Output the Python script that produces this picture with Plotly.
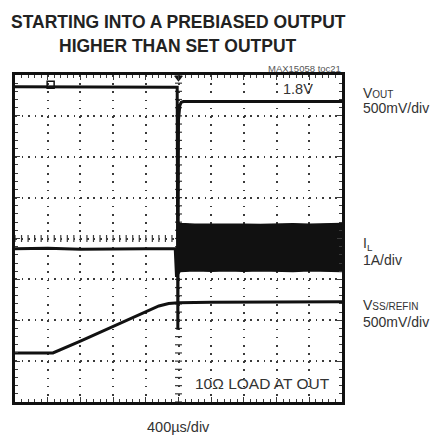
import plotly.graph_objects as go

# ---- data (x in time divisions 0..10, y in vertical divisions 0..8) ----
vout_x = [0.0, 1.0, 2.0, 3.0, 4.0, 4.96, 4.98, 5.00, 5.04, 5.08, 5.15, 6.0, 7.0, 8.0, 9.0, 10.0]
vout_y = [7.71, 7.71, 7.70, 7.71, 7.71, 7.70, 1.77, 6.90, 7.25, 7.33, 7.35, 7.35, 7.36, 7.35, 7.36, 7.35]

il_x = [0.0, 1.0, 2.0, 3.0, 4.0, 4.90, 4.94, 4.94]
il_y = [3.75, 3.76, 3.74, 3.75, 3.75, 3.75, 3.06, 3.75]

il_env_x = [4.94, 5.05, 5.5, 6.0, 6.5, 7.0, 7.5, 8.0, 8.5, 9.0, 9.5, 10.0]
il_env_hi = [4.40, 4.37, 4.35, 4.35, 4.36, 4.35, 4.34, 4.35, 4.36, 4.35, 4.36, 4.37]
il_env_lo = [3.06, 3.19, 3.21, 3.20, 3.21, 3.20, 3.21, 3.20, 3.19, 3.21, 3.20, 3.19]

vss_x = [0.0, 1.16, 2.0, 3.0, 4.0, 4.4, 4.7, 5.0, 6.0, 7.0, 8.0, 9.0, 10.0]
vss_y = [1.20, 1.20, 1.49, 1.85, 2.21, 2.35, 2.41, 2.43, 2.44, 2.44, 2.45, 2.44, 2.45]

minor_steps = [i / 5 for i in range(0, 51)]
minor_steps_y = [i / 5 for i in range(0, 41)]

title_lines = ["STARTING INTO A PREBIASED OUTPUT", "HIGHER THAN SET OUTPUT"]
fig_id = "MAX15058 toc21"
vout_label = ["V<span style='font-size:10px'>OUT</span>", "500mV/div"]
il_label = ["I<sub>L</sub>", "1A/div"]
vss_label = ["V<span style='font-size:10px'>SS/REFIN</span>", "500mV/div"]
time_label = "400µs/div"
level_label = "1.8V"
load_label = "10Ω LOAD AT OUT"

# ---- layout geometry ----
W, H = 438, 436
L, R, T, B = 15, 96, 75, 34
PW, PH = W - L - R, H - T - B


def px(xp):
    return (xp - L) / PW


def py(yp):
    return (H - B - yp) / PH


INK = "#111111"
GRID = "#3a3a3a"
SANS = "Liberation Sans, Arial, Helvetica, sans-serif"

fig = go.Figure()

# center-line tick crosses
fig.add_trace(go.Scatter(x=minor_steps, y=[4] * len(minor_steps), mode="markers",
                         marker=dict(symbol="line-ns", size=5, color=GRID, line=dict(width=1.2, color=GRID)),
                         hoverinfo="skip", showlegend=False))
fig.add_trace(go.Scatter(x=[5] * len(minor_steps_y), y=minor_steps_y, mode="markers",
                         marker=dict(symbol="line-ew", size=5, color=GRID, line=dict(width=1.2, color=GRID)),
                         hoverinfo="skip", showlegend=False))

# IL switching band
fig.add_trace(go.Scatter(x=il_env_x + il_env_x[::-1], y=il_env_hi + il_env_lo[::-1],
                         mode="lines", fill="toself", fillcolor=INK,
                         line=dict(color=INK, width=1.5), hoverinfo="skip", showlegend=False))
# traces
for xs, ys in [(vout_x, vout_y), (il_x, il_y), (vss_x, vss_y)]:
    fig.add_trace(go.Scatter(x=xs, y=ys, mode="lines", line=dict(color=INK, width=3),
                             hoverinfo="skip", showlegend=False))

# markers: channel marker and trigger position
fig.add_trace(go.Scatter(x=[1.09], y=[7.76], mode="markers",
                         marker=dict(symbol="square-open", size=7, color=INK, line=dict(width=1.5, color=INK)),
                         hoverinfo="skip", showlegend=False))
fig.add_trace(go.Scatter(x=[5], y=[7.93], mode="markers", cliponaxis=False,
                         marker=dict(symbol="triangle-down", size=8, color=INK),
                         hoverinfo="skip", showlegend=False))

axis_common = dict(showline=True, linewidth=3, linecolor=INK, mirror="allticks",
                   ticks="inside", ticklen=5, tickwidth=1.2, tickcolor=GRID,
                   showticklabels=False, zeroline=False, showgrid=True,
                   gridcolor=GRID, gridwidth=1.6, fixedrange=True)

fig.update_xaxes(range=[0, 10], dtick=1, tick0=0, griddash="1.6px,6.58px",
                 minor=dict(dtick=0.2, ticks="inside", ticklen=3, tickcolor=GRID, tickwidth=1, showgrid=False),
                 **axis_common)
fig.update_yaxes(range=[0, 8], dtick=1, tick0=0, griddash="1.6px,4.94px",
                 minor=dict(dtick=0.2, ticks="inside", ticklen=3, tickcolor=GRID, tickwidth=1, showgrid=False),
                 **axis_common)

ann = []
ann.append(dict(text="<b>" + title_lines[0] + "</b>", x=px(178), y=py(21.5), font=dict(family=SANS, size=17.5, color="#222")))
ann.append(dict(text="<b>" + title_lines[1] + "</b>", x=px(178), y=py(46.5), font=dict(family=SANS, size=17.5, color="#222")))
ann.append(dict(text=fig_id, x=px(343), y=py(68), xanchor="right", font=dict(family=SANS, size=9.5, color="#555")))
ann.append(dict(text=level_label, x=px(315), y=py(89), xanchor="right", font=dict(family=SANS, size=14.5, color="#333")))
ann.append(dict(text=load_label, x=px(332), y=py(383.5), xanchor="right", font=dict(family=SANS, size=15.5, color="#333")))
ann.append(dict(text=time_label, x=px(178.5), y=py(427), font=dict(family=SANS, size=14.5, color="#333")))
for lbl, y1, y2 in [(vout_label, 93, 108), (il_label, 244, 260), (vss_label, 305, 322)]:
    ann.append(dict(text=lbl[0], x=px(361), y=py(y1), xanchor="left", font=dict(family=SANS, size=14, color="#333")))
    ann.append(dict(text=lbl[1], x=px(361), y=py(y2), xanchor="left", font=dict(family=SANS, size=14, color="#333")))
for a in ann:
    a.setdefault("xanchor", "center")
    a.update(xref="paper", yref="paper", yanchor="middle", showarrow=False)

fig.update_layout(width=W, height=H, margin=dict(l=L, r=R, t=T, b=B, pad=0),
                  paper_bgcolor="white", plot_bgcolor="white", annotations=ann,
                  showlegend=False)

fig.write_html("out.html", config={"displayModeBar": False},
               post_script="document.body.style.margin='0';document.body.style.overflow='hidden';")
